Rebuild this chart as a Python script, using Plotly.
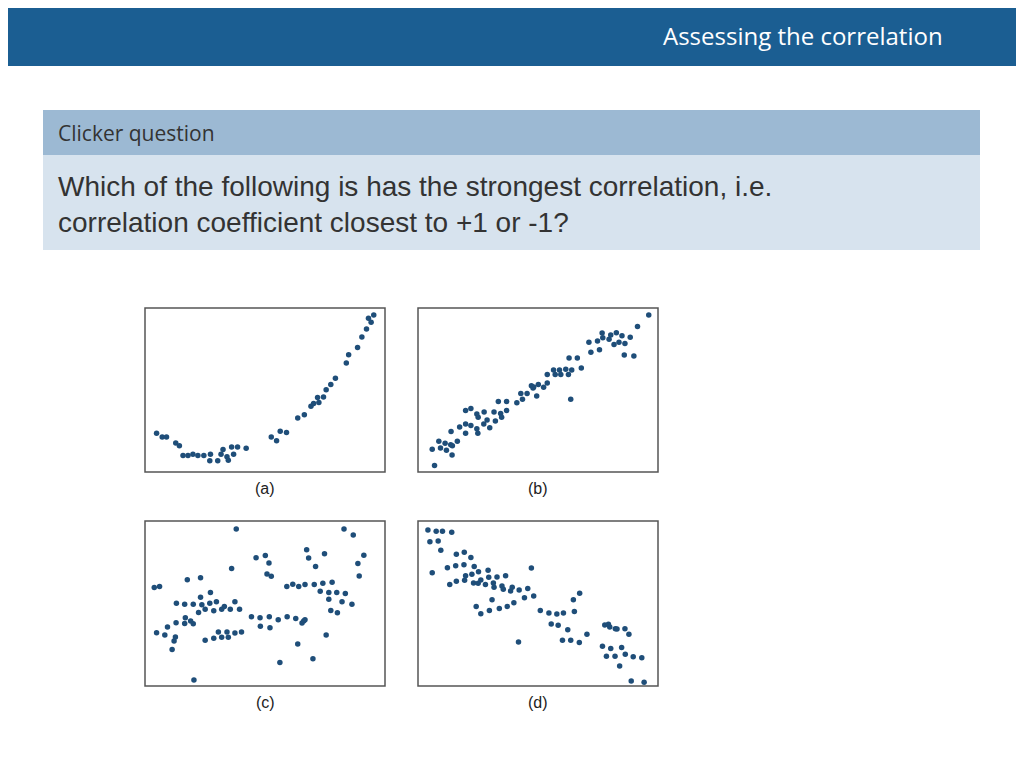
import plotly.graph_objects as go

a_x = [35, 52, 65, 93, 104, 115, 130, 145, 160, 178, 198, 196, 220, 230, 236, 248, 252, 262, 268, 280, 306,
       382, 398, 409, 428, 462, 482, 502, 510, 522, 526, 540, 548, 562, 576, 609, 616, 643, 656, 670, 676, 684, 692]
a_y = [380, 392, 392, 410, 418, 448, 448, 444, 448, 448, 444, 464, 464, 444, 430, 452, 462, 422, 444, 422, 426,
       392, 403, 374, 378, 334, 324, 298, 290, 272, 287, 270, 248, 232, 213, 167, 142, 120, 88, 64, 31, 43, 21]

b_x = [43, 50, 63, 68, 82, 86, 99, 103, 104, 100, 119, 126, 144, 144, 144, 160, 160, 178, 178, 182, 181, 199, 200,
       209, 217, 230, 234, 243, 250, 253, 268, 268, 299, 311, 316, 330, 343, 348, 350, 359, 364, 380, 391, 391, 410,
       415, 428, 432, 447, 455, 457, 465, 462, 482, 494, 517, 523, 543, 549, 557, 559, 578, 583, 593, 600, 608, 617,
       624, 626, 642, 653, 664, 698]
b_y = [429, 478, 405, 425, 411, 432, 415, 446, 418, 375, 405, 361, 311, 352, 380, 305, 357, 322, 367, 332, 380, 352, 316,
       340, 364, 316, 343, 284, 320, 332, 284, 311, 288, 260, 277, 260, 236, 243, 240, 267, 232, 241, 202, 228, 188,
       202, 188, 202, 186, 202, 152, 188, 277, 152, 182, 104, 134, 100, 127, 76, 90, 95, 82, 111, 75, 104, 84,
       143, 108, 89, 146, 56, 21]

c_x = [28, 44, 35, 60, 68, 82, 88, 92, 95, 94, 120, 120, 122, 128, 138, 146, 146, 148, 162, 168, 168, 172, 182, 182,
       196, 198, 208, 208, 216, 222, 232, 232, 240, 248, 252, 258, 262, 272, 272, 276, 286, 292, 322, 336, 348, 349,
       364, 376, 375, 378, 369, 382, 403, 408, 429, 430, 447, 456, 462, 465, 475, 480, 484, 484, 489, 495, 508, 512,
       516, 530, 538, 543, 548, 556, 556, 562, 566, 580, 582, 596, 602, 606, 626, 630, 644, 648, 662]
c_y = [201, 198, 337, 344, 320, 388, 362, 350, 248, 307, 251, 309, 292, 177, 302, 310, 251, 480, 276, 230, 171, 253, 266,
       360, 248, 216, 354, 271, 244, 335, 351, 266, 258, 335, 351, 266, 143, 244, 338, 24, 266, 335, 289, 111, 292, 318,
       104, 289, 127, 322, 160, 167, 298, 427, 198, 289, 191, 294, 371, 198, 308, 302, 298, 192, 87, 112, 416, 192,
       137, 212, 188, 99, 344, 236, 216, 270, 185, 216, 277, 244, 24, 219, 251, 42, 128, 166, 103]

d_x = [30, 55, 74, 102, 36, 61, 69, 43, 89, 96, 116, 114, 116, 140, 139, 141, 144, 160, 163, 168, 170, 183, 182, 190,
       176, 190, 204, 212, 214, 216, 224, 228, 230, 239, 246, 254, 258, 265, 270, 280, 285, 290, 304, 306, 322, 332,
       343, 350, 370, 396, 403, 420, 424, 437, 440, 453, 462, 470, 473, 488, 489, 511, 558, 565, 570, 576, 580, 583,
       596, 597, 602, 610, 616, 626, 627, 638, 645, 651, 677, 684]
d_y = [27, 31, 31, 34, 63, 60, 88, 156, 141, 192, 100, 135, 182, 94, 132, 179, 165, 110, 161, 187, 137, 153, 188, 178,
       258, 280, 192, 149, 170, 270, 238, 187, 200, 169, 264, 196, 206, 165, 258, 211, 200, 247, 365, 208, 232, 204,
       142, 226, 270, 278, 311, 281, 315, 360, 278, 328, 360, 238, 273, 367, 218, 342, 378, 314, 408, 312, 320, 385,
       408, 325, 326, 438, 382, 325, 402, 342, 483, 410, 413, 487]

panel_labels = ["(a)", "(b)", "(c)", "(d)"]
panels = [(a_x, a_y), (b_x, b_y), (c_x, c_y), (d_x, d_y)]

# page sits 8px in from the window corner, so work in page coords minus 8
OFF = 8
W, H = 1024 - OFF, 769 - OFF


def px(x):
    return (x - OFF) / W


def py(y):
    return 1 - (y - OFF) / H


boxes = [(145, 385, 308, 472), (418, 658, 308, 472), (145, 385, 521, 686), (418, 658, 521, 686)]

fig = go.Figure()
layout = dict(width=W, height=H, margin=dict(l=0, r=0, t=0, b=0),
              paper_bgcolor="white", plot_bgcolor="white", showlegend=False)

shapes = [
    dict(type="rect", xref="paper", yref="paper", x0=0, x1=1, y0=py(66), y1=1,
         fillcolor="#1b5e92", line_width=0, layer="below"),
    dict(type="rect", xref="paper", yref="paper", x0=px(43), x1=px(980), y0=py(155), y1=py(110),
         fillcolor="#9cb9d3", line_width=0, layer="below"),
    dict(type="rect", xref="paper", yref="paper", x0=px(43), x1=px(980), y0=py(250), y1=py(155),
         fillcolor="#d7e3ee", line_width=0, layer="below"),
]
annotations = [
    dict(text="Assessing the correlation", x=px(803), y=py(36), xref="paper", yref="paper",
         xanchor="center", yanchor="middle",
         showarrow=False, font=dict(family="Open Sans", size=24, color="white")),
    dict(text="Clicker question", x=px(56), y=py(133), xref="paper", yref="paper",
         xanchor="left", yanchor="middle",
         showarrow=False, font=dict(family="Open Sans", size=21, color="#333333")),
    dict(text="Which of the following is has the strongest correlation, i.e.<br>correlation coefficient closest to +1 or -1?",
         x=px(56), y=py(204), xref="paper", yref="paper", xanchor="left", yanchor="middle", align="left",
         showarrow=False, font=dict(family="Liberation Sans", size=28, color="#333333")),
]

for i, ((xs, ys), (x0, x1, y0, y1)) in enumerate(zip(panels, boxes)):
    n = i + 1
    sfx = "" if n == 1 else str(n)
    fig.add_trace(go.Scatter(x=xs, y=ys, mode="markers",
                             marker=dict(size=5.5, color="#1f4e79"),
                             xaxis="x" + sfx, yaxis="y" + sfx))
    layout["xaxis" + sfx] = dict(domain=[px(x0), px(x1)], range=[0, 726], visible=False, anchor="y" + sfx)
    layout["yaxis" + sfx] = dict(domain=[py(y1), py(y0)], range=[498, 0], visible=False, anchor="x" + sfx)
    shapes.append(dict(type="rect", xref="paper", yref="paper", x0=px(x0), x1=px(x1),
                       y0=py(y1), y1=py(y0), line=dict(color="#555555", width=1.5)))
    annotations.append(dict(text=panel_labels[i], x=px((x0 + x1) / 2), y=py(y1 + 16),
                            xref="paper", yref="paper", xanchor="center", yanchor="middle",
                            showarrow=False,
                            font=dict(family="Liberation Sans", size=16, color="#222222")))

layout["shapes"] = shapes
layout["annotations"] = annotations
fig.update_layout(**layout)
fig.write_html("out.html")
